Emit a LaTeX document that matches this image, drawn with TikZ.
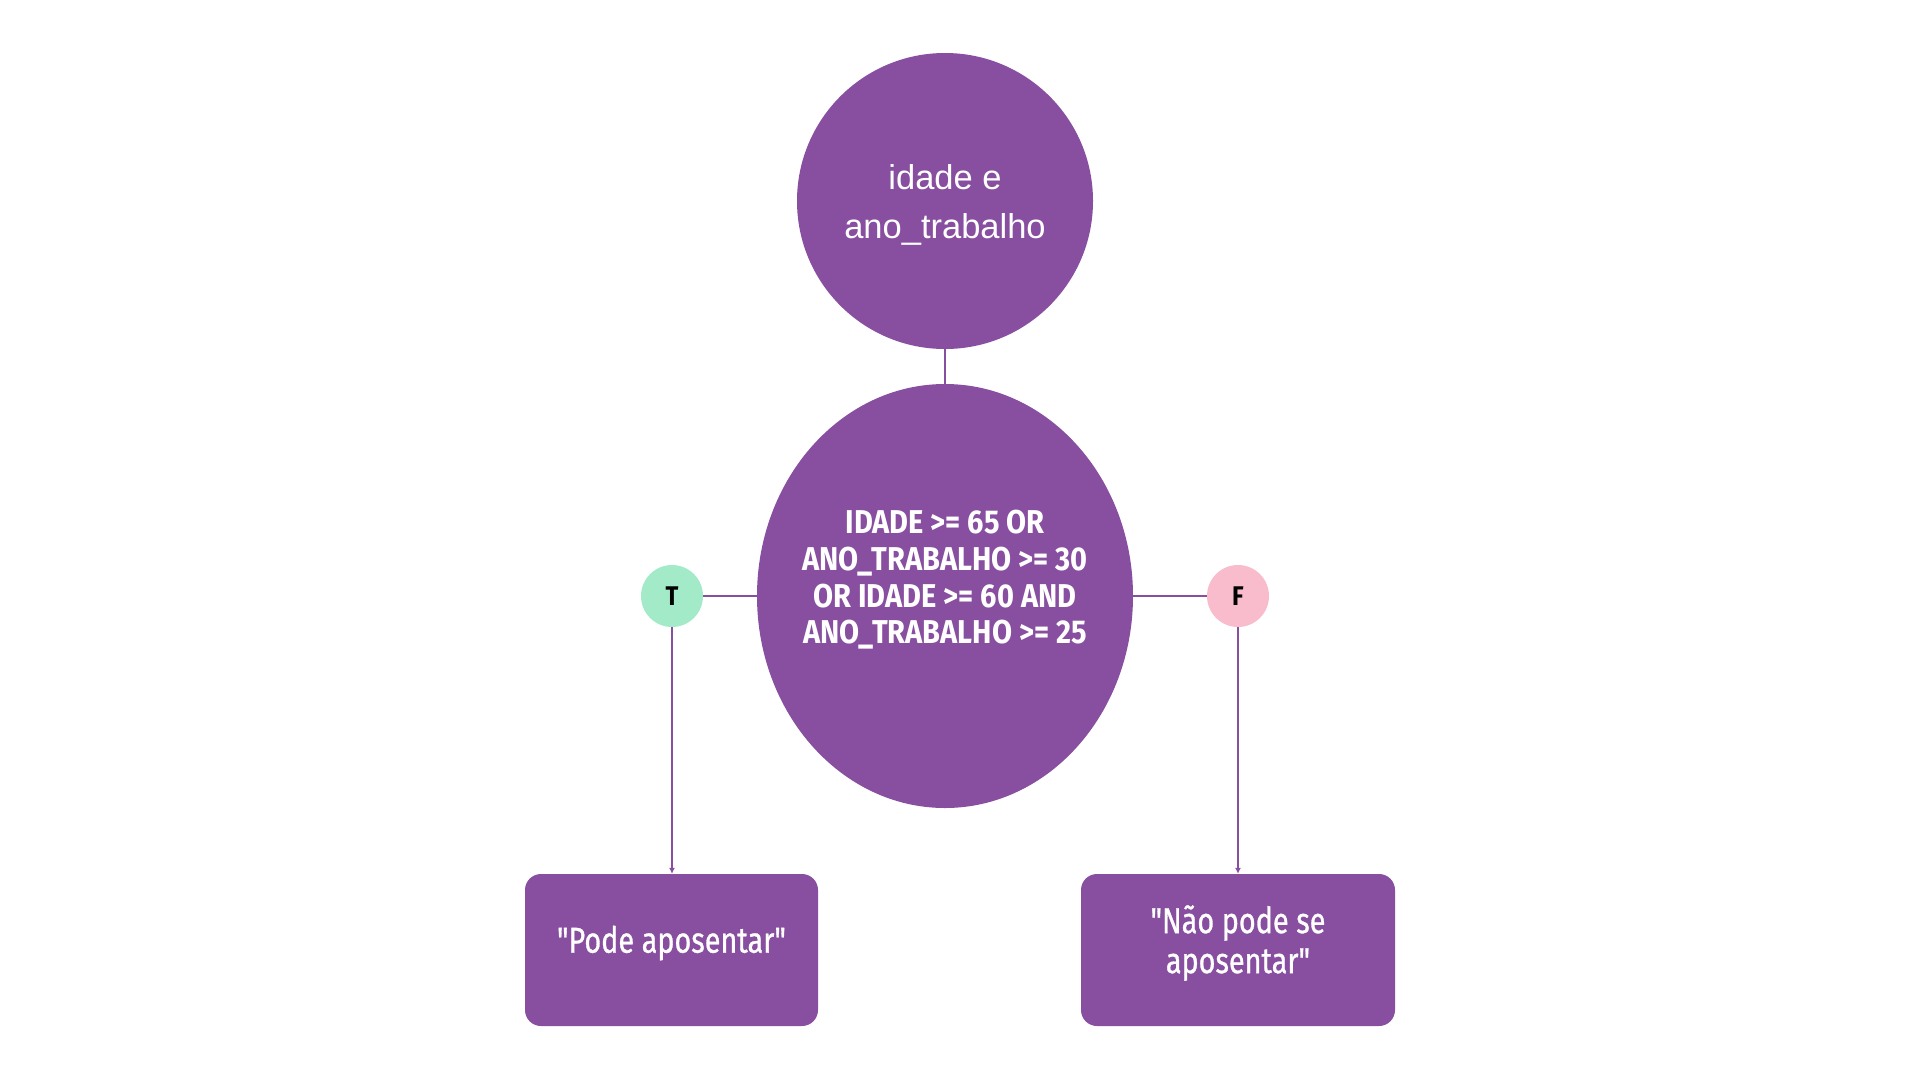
\documentclass[tikz,border=0pt]{standalone}
\usepackage{fontspec}
\setmainfont{Liberation Sans}
\newfontfamily\condfont[FakeStretch=0.88]{Fira Sans}
\newfontfamily\boxfont[FakeStretch=0.8,FakeBold=0.8]{Fira Sans}
\usetikzlibrary{shapes.geometric,arrows.meta}
\definecolor{purp}{RGB}{136,78,160}
\definecolor{tgreen}{RGB}{163,235,200}
\definecolor{fpink}{RGB}{249,188,204}
\tikzset{
  conn/.style={draw=purp, line width=2pt},
  arr/.style={conn, -{Latex[length=6pt,width=6pt]}},
  flag/.style={circle, minimum size=62pt, inner sep=0pt, text=black, font=\condfont\bfseries\fontsize{27}{30}\selectfont},
  resbox/.style={rectangle, rounded corners=16pt, fill=purp, minimum height=152pt, inner sep=0pt},
  restext/.style={text=white, align=center, font=\boxfont\fontsize{36}{40}\selectfont}
}
\begin{document}
\begin{tikzpicture}[x=1pt,y=-1pt]
\useasboundingbox[fill=white] (0,0) rectangle (1920,1080);
\node[circle, fill=purp, minimum size=296pt, inner sep=0pt] (top) at (945,201) {};
\node[text=white, align=center, font=\fontsize{34.5}{49}\selectfont] (toptxt) at (945,205) {idade e\\ano\_trabalho};
\node[ellipse, fill=purp, minimum width=376pt, minimum height=424pt, inner sep=0pt] (cond) at (945,596) {};
\node[text=white, align=center, font=\condfont\bfseries\fontsize{33}{36.7}\selectfont] (condtxt) at (945,580)
  {IDADE >= 65 OR\\ANO\_TRABALHO >= 30\\OR IDADE >= 60 AND\\ANO\_TRABALHO >= 25};
\node[flag, fill=tgreen] (T) at (672,596) {T};
\node[flag, fill=fpink] (F) at (1238,596) {F};
\node[resbox, minimum width=293pt] (boxL) at (671.5,950) {};
\node[resbox, minimum width=314pt] (boxR) at (1238,950) {};
\node[restext] (txtL) at (671.5,943) {"Pode aposentar"};
\node[restext] (txtR) at (1238,943) {"Não pode se\\aposentar"};
\draw[conn] (top.south) -- (cond.north);
\draw[conn] (cond.west) -- (T.east);
\draw[conn] (cond.east) -- (F.west);
\draw[arr] (T.south) -- (T.south |- boxL.north);
\draw[arr] (F.south) -- (F.south |- boxR.north);
\end{tikzpicture}
\end{document}
